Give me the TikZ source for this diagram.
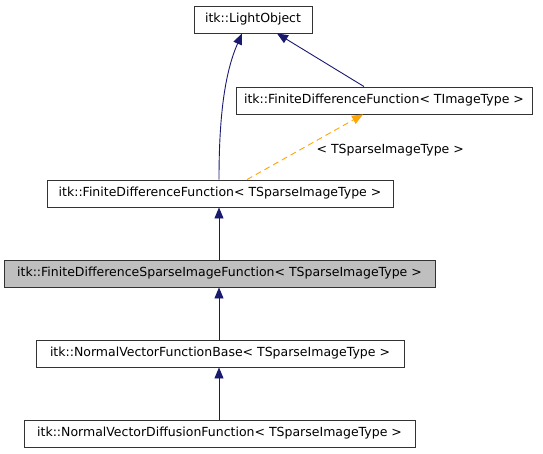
\documentclass[tikz,border=0pt]{standalone}
\usepackage{fontspec}
\setmainfont{DejaVu Sans}
\usetikzlibrary{
    arrows.meta,
    positioning
}
\definecolor{edgeblue}{HTML}{191970}
\definecolor{tmplorange}{HTML}{FFA500}
\definecolor{boxgray}{HTML}{BFBFBF}

\begin{document}
\begin{tikzpicture}[
    x=1pt,
    y=-1pt,
    every node/.style={
        font=\fontsize{12.5pt}{14pt}\selectfont
    },
    classbox/.style={
        draw=black!80,
        fill=white,
        line width=0.9pt,
        minimum height=27pt,
        inner sep=0pt
    },
    inherit/.style={
        draw=edgeblue,
        line width=0.9pt,
        -{Triangle[width=9pt,length=11pt]}
    },
    instance/.style={
        draw=tmplorange,
        line width=0.9pt,
        dashed,
        dash pattern=on 6pt off 4pt,
        -{Triangle[width=9pt,length=11pt]}
    }
]

    \useasboundingbox (0,0) rectangle (543,453);

    % -------------------------------------------------------
    % Classes
    % -------------------------------------------------------
    \node[classbox, minimum width=118pt] (light)
        at (253,19.5) {itk::LightObject};

    \node[classbox, minimum width=296pt] (fdfimg)
        at (384,100.5) {itk::FiniteDifferenceFunction< TImageType >};

    \node[classbox, minimum width=346pt] (fdfsparse)
        at (220,193.5) {itk::FiniteDifferenceFunction< TSparseImageType >};

    \node[
        classbox,
        fill=boxgray,
        minimum width=431pt
    ] (fdsparse)
        at (219.5,273.5) {itk::FiniteDifferenceSparseImageFunction< TSparseImageType >};

    \node[classbox, minimum width=368pt] (nvfbase)
        at (220,353.5) {itk::NormalVectorFunctionBase< TSparseImageType >};

    \node[classbox, minimum width=391pt] (nvdiff)
        at (219.5,433.5) {itk::NormalVectorDiffusionFunction< TSparseImageType >};

    % -------------------------------------------------------
    % Inheritance
    % -------------------------------------------------------
    \draw[inherit]
        ([xshift=-1pt]fdfsparse.north)
        .. controls (219,110) and (226,70) ..
        ([xshift=-11pt]light.south);

    \draw[inherit]
        ([xshift=-20pt]fdfimg.north)
        -- ([xshift=24pt]light.south);

    \draw[inherit]
        ([xshift=-0.5pt]fdsparse.north)
        -- ([xshift=-1pt]fdfsparse.south);

    \draw[inherit]
        ([xshift=-1pt]nvfbase.north)
        -- ([xshift=-0.5pt]fdsparse.south);

    \draw[inherit]
        ([xshift=-0.5pt]nvdiff.north)
        -- ([xshift=-1pt]nvfbase.south);

    % -------------------------------------------------------
    % Template instantiation
    % -------------------------------------------------------
    \draw[instance]
        ([xshift=27pt]fdfsparse.north)
        -- ([xshift=-21pt]fdfimg.south)
        node[
            pos=0.55,
            anchor=west,
            xshift=2pt,
            yshift=-6pt
        ] (tmpl) {< TSparseImageType >};

\end{tikzpicture}
\end{document}
